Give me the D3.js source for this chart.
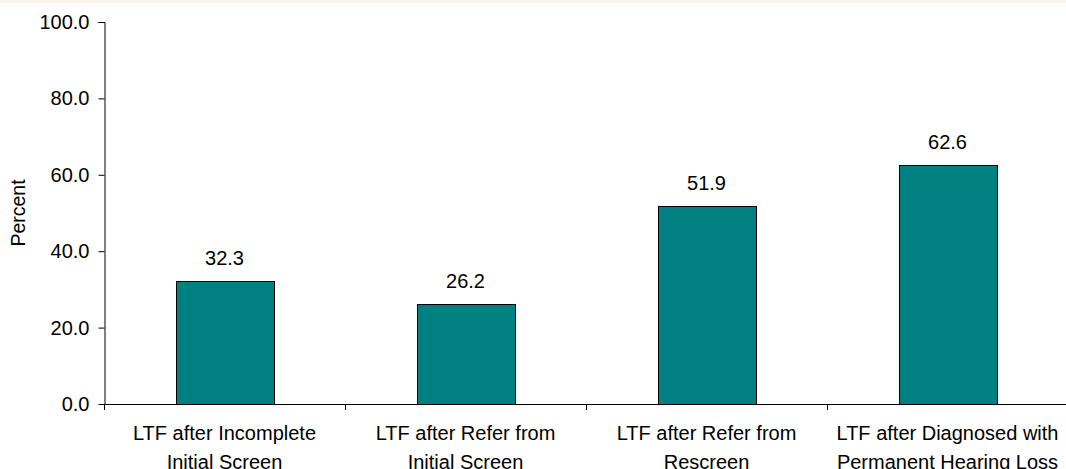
<!DOCTYPE html>
<html>
<head>
<meta charset="utf-8">
<script src="https://cdn.jsdelivr.net/npm/d3@7"></script>
<style>
  html, body { margin: 0; padding: 0; background: #ffffff; }
  svg { display: block; font-family: "Liberation Sans", Arial, sans-serif; }
</style>
</head>
<body>
<svg id="chart" width="1066" height="469"></svg>
<script>
// Lost-to-follow-up percentages by stage
const categories = [
  ["LTF after Incomplete", "Initial Screen"],
  ["LTF after Refer from", "Initial Screen"],
  ["LTF after Refer from", "Rescreen"],
  ["LTF after Diagnosed with", "Permanent Hearing Loss"]
];
const values = [32.3, 26.2, 51.9, 62.6];
const yTicks = [0, 20, 40, 60, 80, 100];
const yTitle = "Percent";

const svg = d3.select("#chart");
const W = 1066, H = 469;
const margin = { left: 104, top: 22, bottom: 65 };
const plotRight = 1068;
const y0 = H - margin.bottom; // baseline at 404

// thin warm strip along the top edge
svg.append("rect").attr("x", 0).attr("y", 0).attr("width", W).attr("height", 3)
  .attr("fill", "#fbf5ed");

const pad = 0.594;
const x = d3.scaleBand()
  .domain(d3.range(categories.length))
  .range([margin.left, plotRight])
  .paddingInner(pad)
  .paddingOuter(pad / 2);

const y = d3.scaleLinear().domain([0, 100]).range([y0, margin.top]);

// bars
svg.append("g").selectAll("rect")
  .data(values)
  .join("rect")
  .attr("x", (d, i) => Math.round(x(i)) + 0.5)
  .attr("y", d => Math.round(y(d)) + 0.5)
  .attr("width", Math.round(x.bandwidth()))
  .attr("height", d => Math.round(y0) - Math.round(y(d)))
  .attr("fill", "#008080")
  .attr("stroke", "#000")
  .attr("stroke-width", 1);

// value labels
svg.append("g").selectAll("text")
  .data(values)
  .join("text")
  .attr("x", (d, i) => x(i) + x.bandwidth() / 2)
  .attr("y", d => y(d) - 16)
  .attr("text-anchor", "middle")
  .attr("font-size", 20)
  .attr("fill", "#000")
  .text(d => d.toFixed(1));

// y axis
const yAxis = d3.axisLeft(y).tickValues(yTicks).tickFormat(d3.format(".1f"))
  .tickSize(6).tickPadding(9);
const gy = svg.append("g").attr("transform", `translate(${margin.left + 0.5},0)`).call(yAxis);
gy.select(".domain").attr("d", `M-6,${y(100) + 0.5}H0.5V${y0 + 0.5}`).attr("stroke", "#000");
gy.selectAll(".tick line").attr("stroke", "#000");
gy.selectAll(".tick text").attr("font-size", 20).attr("fill", "#000")
  .attr("font-family", "Liberation Sans, Arial, sans-serif");

// x axis: ticks at band boundaries
const step = x.step();
const boundaries = d3.range(categories.length + 1).map(i => margin.left + i * step);
const gx = svg.append("g");
gx.append("line")
  .attr("x1", margin.left).attr("x2", plotRight)
  .attr("y1", y0 + 0.5).attr("y2", y0 + 0.5)
  .attr("stroke", "#000");
gx.selectAll("line.tick")
  .data(boundaries)
  .join("line")
  .attr("class", "tick")
  .attr("x1", d => Math.round(d) + 0.5).attr("x2", d => Math.round(d) + 0.5)
  .attr("y1", y0).attr("y2", y0 + 6)
  .attr("stroke", "#000");

// category labels (two lines each)
const labels = gx.selectAll("text")
  .data(categories)
  .join("text")
  .attr("text-anchor", "middle")
  .attr("font-size", 20)
  .attr("fill", "#000");
labels.each(function (lines, i) {
  const t = d3.select(this);
  lines.forEach((ln, k) => {
    t.append("tspan")
      .attr("x", x(i) + x.bandwidth() / 2)
      .attr("y", y0 + 36 + k * 29)
      .text(ln);
  });
});

// y axis title
svg.append("text")
  .attr("transform", `translate(25,${(y(100) + y0) / 2}) rotate(-90)`)
  .attr("text-anchor", "middle")
  .attr("font-size", 19.5)
  .attr("fill", "#000")
  .text(yTitle);
</script>
</body>
</html>
